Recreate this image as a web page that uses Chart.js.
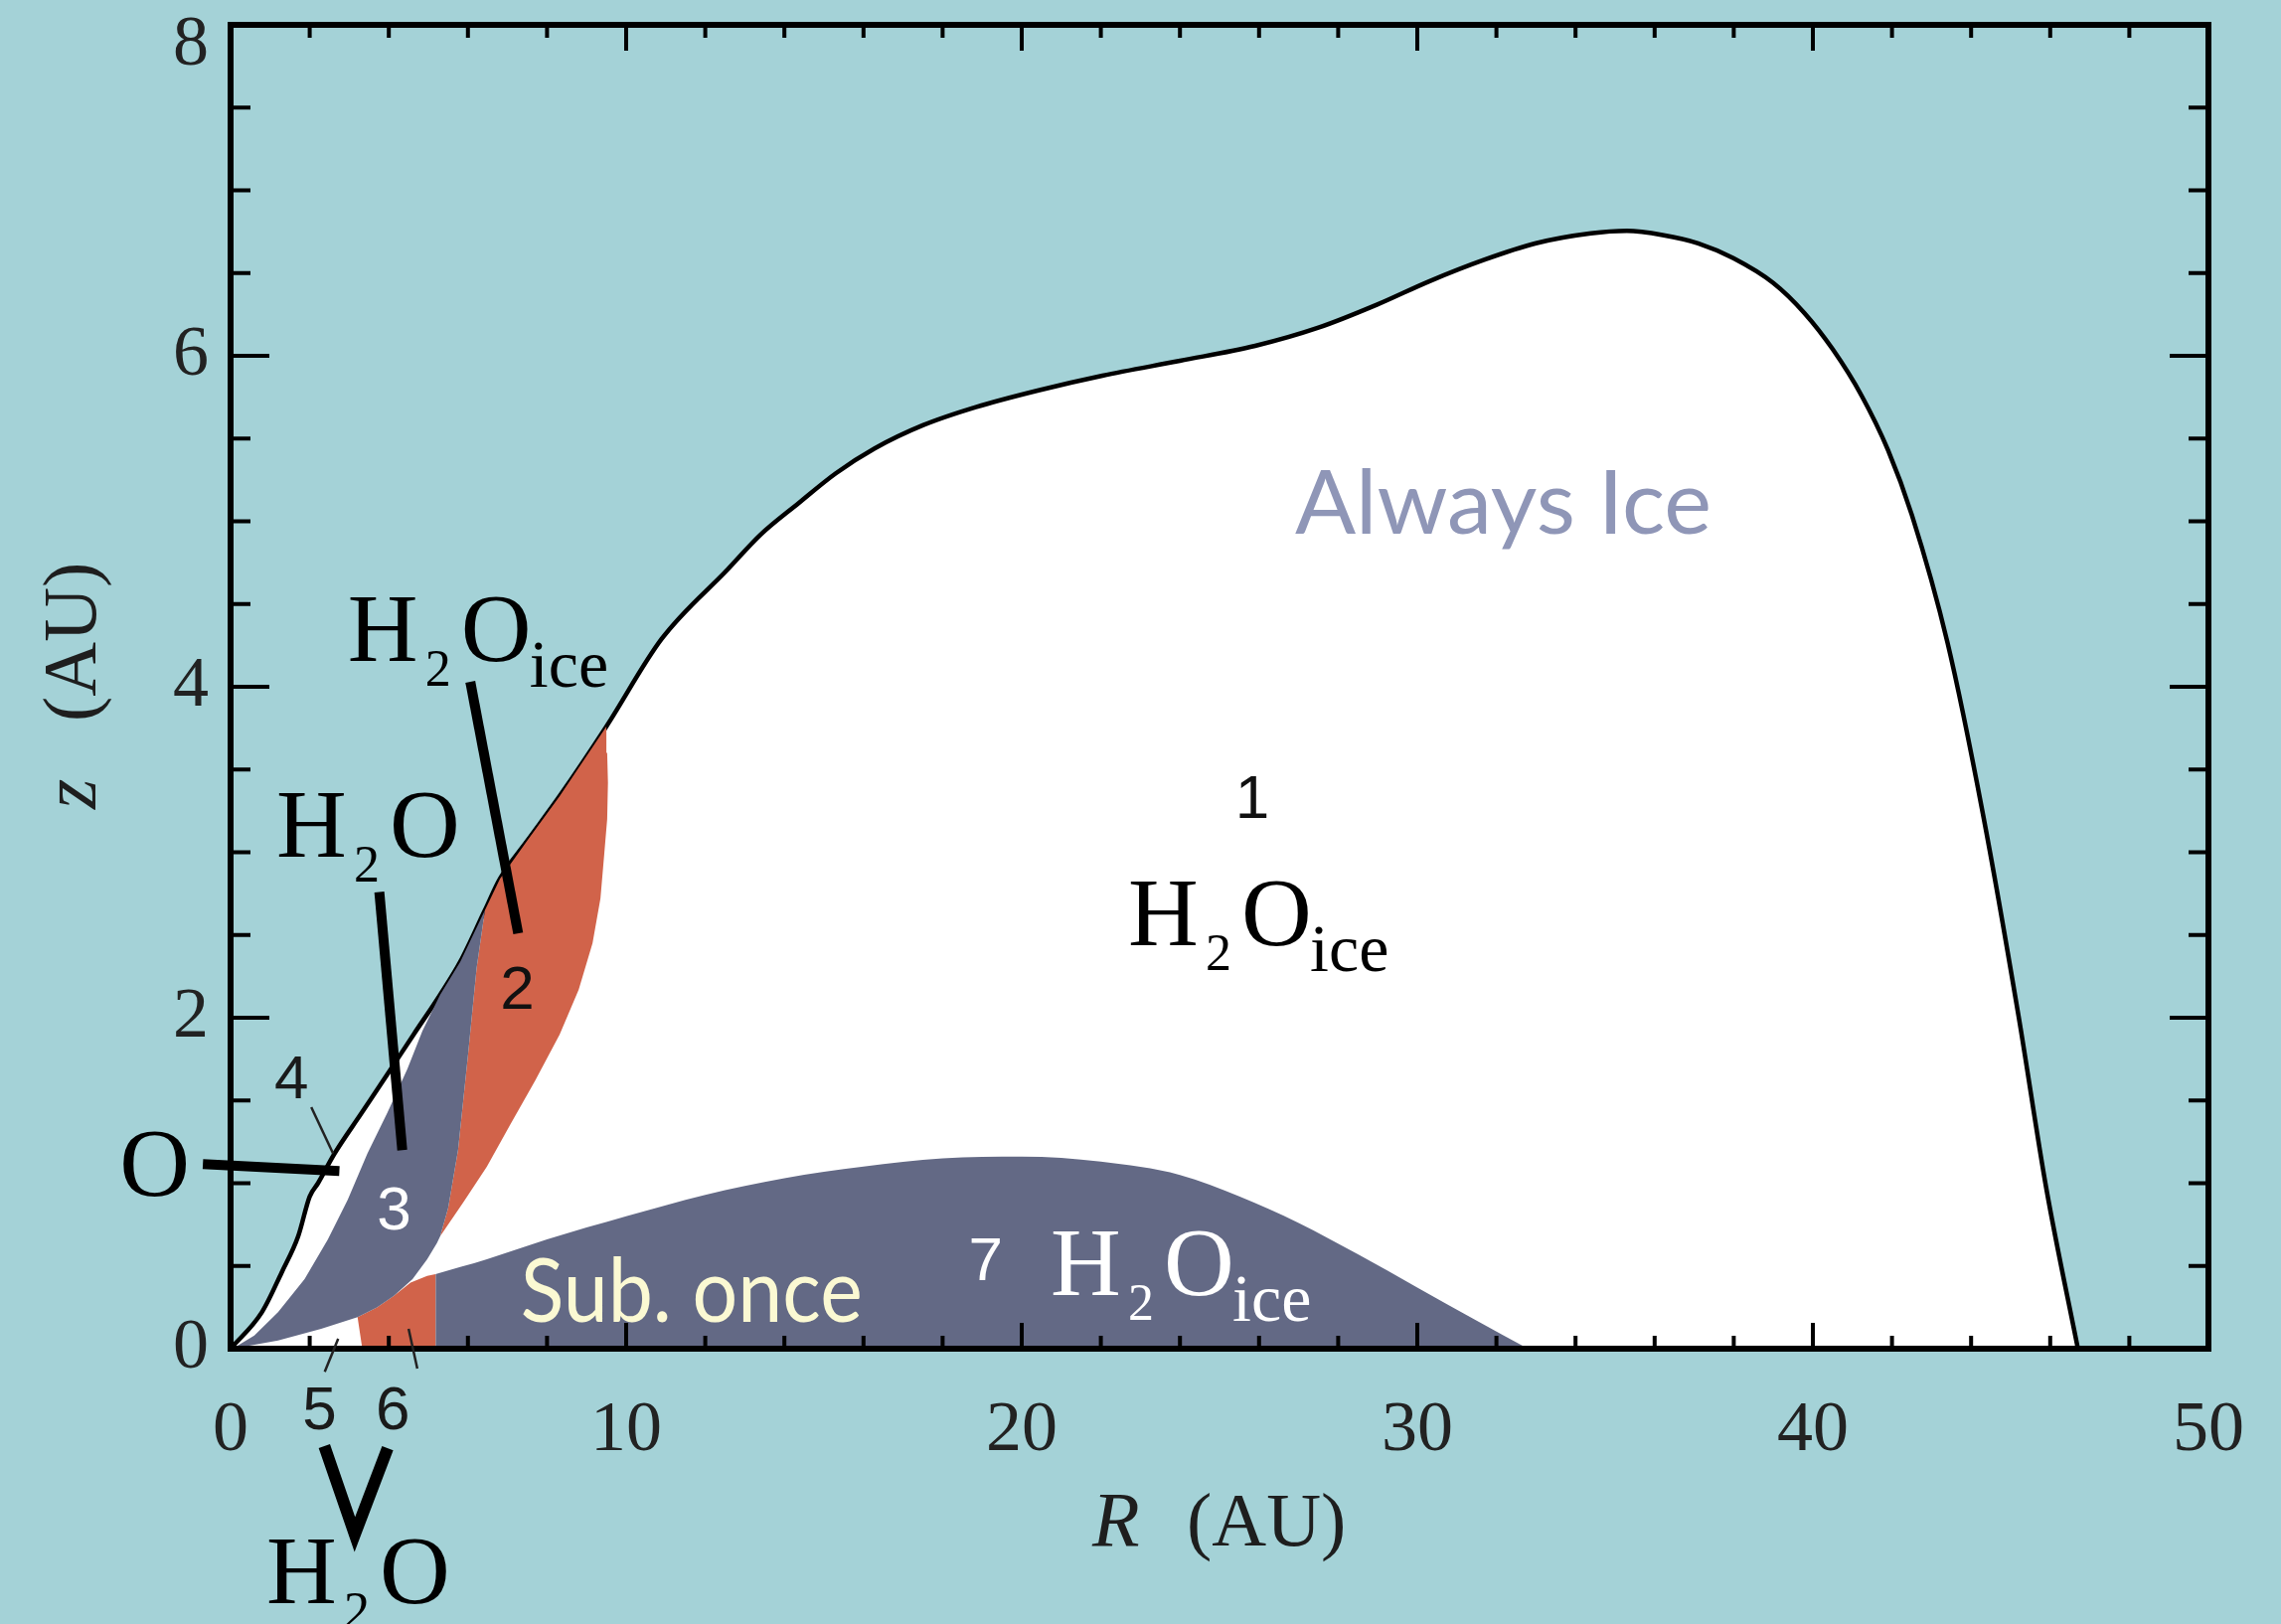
<!DOCTYPE html>
<html>
<head>
<meta charset="utf-8">
<title>H2O ice regions in the disk</title>
<script src="https://cdn.jsdelivr.net/npm/chart.js@4.4.1/dist/chart.umd.min.js"></script>
<style>
html,body{margin:0;padding:0;background:#A4D2D7;overflow:hidden;}
canvas{display:block;}
</style>
</head>
<body>
<canvas id="chart" width="2295" height="1634"></canvas>
<script>
// ---------------- data (R in AU, z in AU) ----------------
// Region 1: outer surface of the ice region (black outline)
const surfaceR = [0, 0.79, 1.29, 1.71, 2.0, 2.21, 2.63, 3.30, 3.97, 4.63, 5.30, 5.81, 6.43, 6.81, 7.5, 8.32, 9.5, 10.9, 12.57, 13.4, 14.36, 15.3, 16.28, 17.5, 18.84, 20.4, 22.04, 24.0, 25.9, 27.5, 28.99, 30.3, 31.69, 33.0, 34.39, 35.3, 36.2, 37.1, 37.99, 39.0, 39.78, 40.5, 41.23, 41.9, 42.5, 43.4, 44.3, 45.2, 45.9, 46.7];
const surfaceZ = [0, 0.22, 0.46, 0.68, 0.92, 1.0, 1.18, 1.42, 1.66, 1.90, 2.14, 2.34, 2.65, 2.84, 3.07, 3.34, 3.76, 4.29, 4.71, 4.92, 5.11, 5.29, 5.44, 5.58, 5.69, 5.79, 5.88, 5.97, 6.06, 6.17, 6.31, 6.45, 6.58, 6.68, 6.74, 6.755, 6.73, 6.68, 6.59, 6.44, 6.26, 6.04, 5.76, 5.43, 5.04, 4.27, 3.23, 2.01, 0.97, 0.0];
// Region 7: "sub. once" midplane zone (filled down to z = 0)
const region7R = [5.18, 6.48, 8.0, 10.0, 12.0, 14.0, 16.0, 18.0, 20.0, 22.0, 24.0, 25.5, 27.0, 28.5, 30.0, 31.5, 32.8];
const region7Z = [0.45, 0.54, 0.66, 0.80, 0.93, 1.03, 1.10, 1.15, 1.16, 1.13, 1.05, 0.92, 0.76, 0.57, 0.37, 0.17, 0];
// Region 6: red strip at the midplane
const region6R = [3.33, 3.21, 3.7, 4.13, 4.55, 4.97, 5.18, 5.18];
const region6Z = [0, 0.19, 0.25, 0.32, 0.40, 0.44, 0.45, 0];
// Region 3: H2O gas zone
const region3R = [0.05, 0.6, 1.2, 1.87, 2.46, 2.96, 3.46, 3.97, 4.47, 4.85, 5.30, 5.81, 6.43, 6.22, 6.0, 5.75, 5.5, 5.3, 5.22, 4.97, 4.6, 4.13, 3.7, 3.21, 2.29, 1.2, 0.05];
const region3Z = [0, 0.08, 0.22, 0.42, 0.66, 0.90, 1.18, 1.43, 1.69, 1.92, 2.14, 2.34, 2.65, 2.3, 1.77, 1.2, 0.85, 0.68, 0.64, 0.54, 0.42, 0.32, 0.25, 0.19, 0.12, 0.05, 0];
// Region 2: red H2O-ice band
const region2R = [5.3, 5.9, 6.48, 7.06, 7.7, 8.32, 8.8, 9.15, 9.35, 9.45, 9.52, 9.54, 9.52, 9.5, 8.32, 7.5, 6.81, 6.43, 6.22, 6.0, 5.75, 5.5, 5.3];
const region2Z = [0.68, 0.89, 1.10, 1.35, 1.62, 1.90, 2.17, 2.45, 2.72, 3.0, 3.2, 3.42, 3.6, 3.76, 3.34, 3.07, 2.84, 2.65, 2.3, 1.77, 1.2, 0.85, 0.68];

// tick labels
const xTickLabels = [0, 10, 20, 30, 40, 50];
const yTickLabels = [0, 2, 4, 6, 8];

// region number labels (bottom-centre anchor)
const numberText = ['1', '2', '3', '4', '5', '6', '7'];
const numberR = [25.83, 7.25, 4.13, 1.54, 2.25, 4.10, 19.09];
const numberZ = [3.207, 2.054, 0.7225, 1.514, -0.486, -0.486, 0.414];
const numberColor = ['#111', '#111', '#fff', '#1a1a1a', '#1a1a1a', '#1a1a1a', '#fff'];

// chemical formula labels (left of H, baseline)
const chemKind = ['H2Oice', 'H2O', 'H2Oice', 'H2Oice', 'H2O'];
const chemR = [2.96, 1.155, 22.69, 20.73, 0.904];
const chemZ = [4.157, 2.973, 2.44, 0.324, -1.538];
const chemColor = ['#000', '#000', '#000', '#fff', '#000'];

// thick leader lines
const leaderR1 = [6.06, 3.76, -0.70];
const leaderZ1 = [4.03, 2.76, 1.115];
const leaderR2 = [7.27, 4.34, 2.75];
const leaderZ2 = [2.51, 1.20, 1.073];
// V-shaped pointer below the axis
const vR = [2.37, 3.14, 3.97];
const vZ = [-0.589, -1.123, -0.601];
// thin pointer lines for labels 4, 5, 6
const thinR1 = [2.04, 2.72, 4.50];
const thinZ1 = [1.46, 0.06, 0.12];
const thinR2 = [2.59, 2.38, 4.72];
const thinZ2 = [1.18, -0.14, -0.12];

// ---------------- styles ----------------
const TEAL = '#A4D2D7';
const SLATE = '#636985';
const RED = '#D1634A';
const SERIF = '"Liberation Serif", "DejaVu Serif", serif';
const SANS = '"Liberation Sans", Arial, sans-serif';
const GEO = 'Lato, "Open Sans", sans-serif';

const pts = (R, Z) => R.map((r, i) => ({x: r, y: Z[i]}));

const bgPlugin = {
  id: 'bg',
  beforeDraw(chart) {
    const c = chart.ctx;
    c.save();
    c.fillStyle = TEAL;
    c.fillRect(0, 0, chart.width, chart.height);
    c.restore();
  }
};

const framePlugin = {
  id: 'frame',
  afterDatasetsDraw(chart) {
    const {ctx, chartArea: a} = chart;
    const xs = chart.scales.x, ys = chart.scales.y;
    ctx.save();
    ctx.strokeStyle = '#000';
    ctx.lineWidth = 4;
    ctx.lineCap = 'butt';
    xs.ticks.forEach(t => {
      const p = xs.getPixelForValue(t.value);
      const L = (t.value % 10 === 0) ? 26 : 13;
      ctx.beginPath();
      ctx.moveTo(p, a.bottom); ctx.lineTo(p, a.bottom - L);
      ctx.moveTo(p, a.top); ctx.lineTo(p, a.top + L);
      ctx.stroke();
    });
    ys.ticks.forEach(t => {
      const p = ys.getPixelForValue(t.value);
      const L = (t.value % 2 === 0) ? 39 : 20;
      ctx.beginPath();
      ctx.moveTo(a.left, p); ctx.lineTo(a.left + L, p);
      ctx.moveTo(a.right, p); ctx.lineTo(a.right - L, p);
      ctx.stroke();
    });
    ctx.lineWidth = 6;
    ctx.strokeRect(a.left, a.top, a.right - a.left, a.bottom - a.top);
    // top tick label sits lower so that it is not cut by the page edge
    ctx.fillStyle = '#222';
    ctx.font = '72px ' + SERIF;
    ctx.textAlign = 'right';
    ctx.textBaseline = 'middle';
    ctx.fillText(String(yTickLabels[yTickLabels.length - 1]), a.left - 22, ys.getPixelForValue(8) + 21);
    ctx.restore();
  }
};

function drawChem(ctx, x0, y0, kind, color) {
  ctx.fillStyle = color;
  ctx.textAlign = 'left';
  ctx.textBaseline = 'alphabetic';
  ctx.font = '98px ' + SERIF; ctx.fillText('H', x0, y0);
  ctx.font = '52px ' + SERIF; ctx.fillText('2', x0 + 78, y0 + 25);
  ctx.font = '98px ' + SERIF; ctx.fillText('O', x0 + 114, y0);
  if (kind === 'H2Oice') {
    ctx.font = '68px ' + SERIF; ctx.fillText('ice', x0 + 183, y0 + 26);
  }
}

function fitText(ctx, s, x, y, font, width, color) {
  ctx.font = font;
  const w = ctx.measureText(s).width;
  ctx.save();
  ctx.fillStyle = color;
  ctx.textAlign = 'left';
  ctx.textBaseline = 'alphabetic';
  ctx.translate(x, y);
  ctx.scale(width / w, 1);
  ctx.fillText(s, 0, 0);
  ctx.restore();
}

const annotPlugin = {
  id: 'annot',
  afterDraw(chart) {
    const ctx = chart.ctx;
    const xs = chart.scales.x, ys = chart.scales.y;
    const a = chart.chartArea;
    const px = r => xs.getPixelForValue(r);
    const py = z => ys.getPixelForValue(z);
    ctx.save();

    ctx.strokeStyle = '#000';
    ctx.lineWidth = 10;
    ctx.lineCap = 'butt';
    for (let i = 0; i < leaderR1.length; i++) {
      ctx.beginPath();
      ctx.moveTo(px(leaderR1[i]), py(leaderZ1[i]));
      ctx.lineTo(px(leaderR2[i]), py(leaderZ2[i]));
      ctx.stroke();
    }
    ctx.lineWidth = 12;
    ctx.lineJoin = 'miter';
    ctx.beginPath();
    vR.forEach((r, i) => i ? ctx.lineTo(px(r), py(vZ[i])) : ctx.moveTo(px(r), py(vZ[i])));
    ctx.stroke();

    ctx.lineWidth = 2.5;
    ctx.strokeStyle = '#222';
    for (let i = 0; i < thinR1.length; i++) {
      ctx.beginPath();
      ctx.moveTo(px(thinR1[i]), py(thinZ1[i]));
      ctx.lineTo(px(thinR2[i]), py(thinZ2[i]));
      ctx.stroke();
    }

    ctx.textAlign = 'center';
    ctx.textBaseline = 'alphabetic';
    ctx.font = '62px ' + SANS;
    numberText.forEach((s, i) => {
      ctx.fillStyle = numberColor[i];
      ctx.fillText(s, px(numberR[i]), py(numberZ[i]));
    });

    chemKind.forEach((k, i) => drawChem(ctx, px(chemR[i]), py(chemZ[i]), k, chemColor[i]));
    ctx.fillStyle = '#000';
    ctx.textAlign = 'left';
    ctx.font = '98px ' + SERIF;
    ctx.fillText('O', px(-2.81), py(0.925));

    fitText(ctx, 'Always Ice', px(26.91), py(4.925), '400 89px ' + GEO, 419, '#8F96B7');
    fitText(ctx, 'Sub. once', px(7.33), py(0.16), '400 89px ' + GEO, 344, '#FBF9D3');

    const cx = px(25);
    ctx.fillStyle = '#1e1e1e';
    ctx.textAlign = 'left';
    ctx.font = 'italic 78px ' + SERIF;
    ctx.fillText('R', cx - 128, a.bottom + 198);
    ctx.font = '76px ' + SERIF;
    ctx.fillText('(AU)', cx - 33, a.bottom + 198);

    ctx.save();
    ctx.translate(a.left - 136, py(4) + 123);
    ctx.rotate(-Math.PI / 2);
    ctx.font = 'italic 78px ' + SERIF;
    ctx.fillText('z', 0, 0);
    ctx.font = '76px ' + SERIF;
    ctx.fillText('(AU)', 88, 0);
    ctx.restore();

    ctx.restore();
  }
};

const noPad = s => { s.paddingTop = 0; s.paddingBottom = 0; s.paddingLeft = 0; s.paddingRight = 0; };
const tickFont = {family: SERIF, size: 72};

new Chart(document.getElementById('chart'), {
  type: 'line',
  data: {
    datasets: [
      {label: 'Region 3', data: pts(region3R, region3Z), fill: 'shape', backgroundColor: SLATE, borderWidth: 0},
      {label: 'Region 2', data: pts(region2R, region2Z), fill: 'shape', backgroundColor: RED, borderWidth: 0},
      {label: 'Region 6', data: pts(region6R, region6Z), fill: 'shape', backgroundColor: RED, borderWidth: 0},
      {label: 'Region 7', data: pts(region7R, region7Z), fill: 'origin', backgroundColor: SLATE, borderWidth: 0, cubicInterpolationMode: 'monotone'},
      {label: 'Region 1', data: pts(surfaceR, surfaceZ), fill: 'origin', backgroundColor: '#ffffff', borderColor: '#000', borderWidth: 4.5, cubicInterpolationMode: 'monotone'}
    ]
  },
  options: {
    responsive: false,
    animation: false,
    events: [],
    layout: {padding: 0},
    elements: {line: {tension: 0, borderJoinStyle: 'round'}, point: {radius: 0, hoverRadius: 0}},
    plugins: {legend: {display: false}, tooltip: {enabled: false}},
    scales: {
      x: {
        type: 'linear', axis: 'x', position: 'bottom', min: 0, max: 50,
        ticks: {stepSize: 2, autoSkip: false, maxRotation: 0, padding: 40, font: tickFont, color: '#222',
          callback: v => xTickLabels.includes(v) ? String(v) : ''},
        grid: {display: false, drawTicks: false}, border: {display: false},
        afterFit: s => { s.height = 277; noPad(s); }
      },
      xTop: {
        type: 'linear', axis: 'x', position: 'top', min: 0, max: 50,
        ticks: {display: false}, grid: {display: false, drawTicks: false}, border: {display: false},
        afterFit: s => { s.height = 25; noPad(s); }
      },
      y: {
        type: 'linear', axis: 'y', position: 'left', min: 0, max: 8,
        ticks: {stepSize: 0.5, autoSkip: false, padding: 22, font: tickFont, color: '#222',
          callback: v => (yTickLabels.includes(v) && v !== 8) ? String(v) : ''},
        grid: {display: false, drawTicks: false}, border: {display: false},
        afterFit: s => { s.width = 232; noPad(s); }
      },
      yRight: {
        type: 'linear', axis: 'y', position: 'right', min: 0, max: 8,
        ticks: {display: false}, grid: {display: false, drawTicks: false}, border: {display: false},
        afterFit: s => { s.width = 73; noPad(s); }
      }
    }
  },
  plugins: [bgPlugin, framePlugin, annotPlugin]
});
</script>
</body>
</html>
